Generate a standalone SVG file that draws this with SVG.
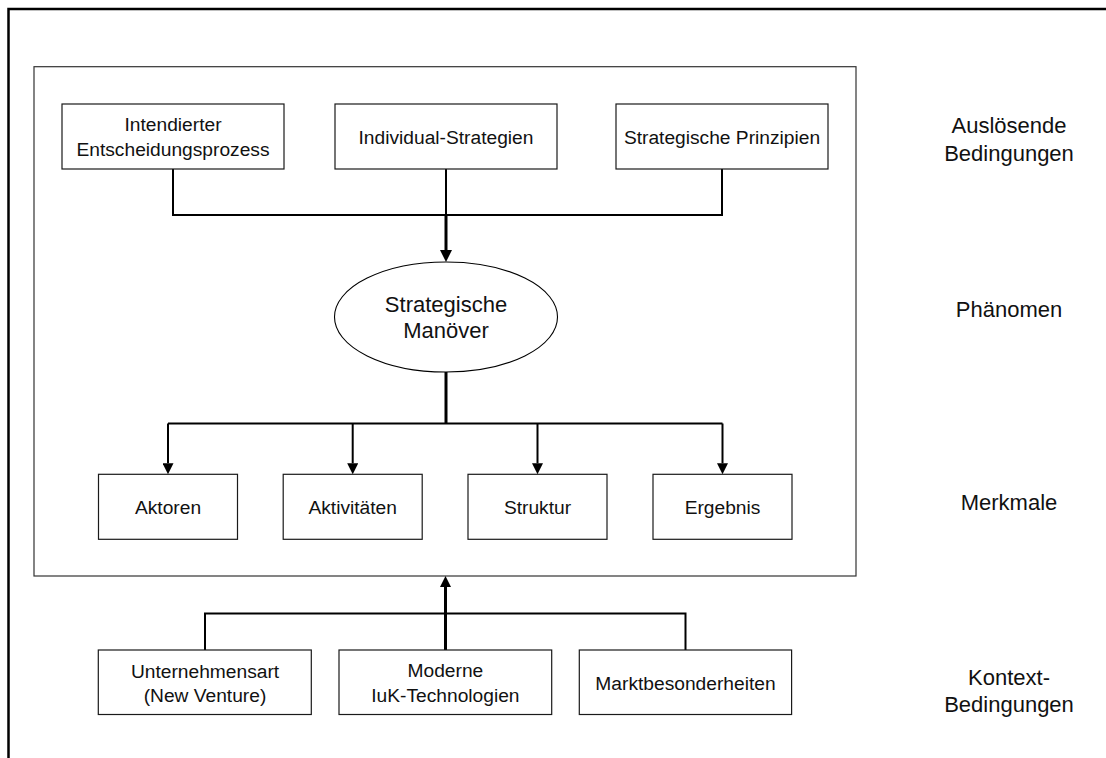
<svg xmlns="http://www.w3.org/2000/svg" width="1106" height="758" viewBox="0 0 1106 758">
  <style>
    .box { fill: #ffffff; stroke: #1a1a1a; stroke-width: 1.2; }
    .frame { fill: none; stroke: #333333; stroke-width: 1.2; }
    .outer { fill: none; stroke: #000000; stroke-width: 2.5; }
    .t { font-family: "Liberation Sans", Arial, sans-serif; font-size: 19.2px; fill: #111111; text-anchor: middle; }
    .big { font-family: "Liberation Sans", Arial, sans-serif; font-size: 22px; fill: #111111; text-anchor: middle; }
    .c { fill: none; stroke: #000000; stroke-width: 2; }
    .c3 { fill: none; stroke: #000000; stroke-width: 3; }
  </style>
  <defs>
    <marker id="ah12" viewBox="0 0 12 12" refX="0" refY="6" markerWidth="12" markerHeight="12" markerUnits="userSpaceOnUse" orient="auto">
      <path d="M0,0 L12,6 L0,12 z" fill="#000000"/>
    </marker>
    <marker id="ah11" viewBox="0 0 11 11" refX="0" refY="5.5" markerWidth="11" markerHeight="11" markerUnits="userSpaceOnUse" orient="auto">
      <path d="M0,0 L11,5.5 L0,11 z" fill="#000000"/>
    </marker>
  </defs>

  <rect width="1106" height="758" fill="#ffffff"/>
  <path class="outer" d="M8.5,758 V9 H1106"/>
  <rect id="frame" class="frame" x="34" y="66.7" width="822" height="509.3"/>

  <g id="connectors">
    <path class="c" d="M173,169 V215 H722 V169"/>
    <path class="c" d="M446,169 V215"/>
    <path class="c3" d="M446,215 V250" marker-end="url(#ah12)"/>
    <path class="c3" d="M446,372 V423.5"/>
    <path class="c" d="M168,423.5 H722.5"/>
    <path class="c" d="M168,423.5 V463.3" marker-end="url(#ah11)"/>
    <path class="c" d="M352.7,423.5 V463.3" marker-end="url(#ah11)"/>
    <path class="c" d="M537.5,423.5 V463.3" marker-end="url(#ah11)"/>
    <path class="c" d="M722.5,423.5 V463.3" marker-end="url(#ah11)"/>
    <path class="c" d="M205,650 V613.5 H685.5 V650"/>
    <path class="c3" d="M445.5,650 V587" marker-end="url(#ah11)"/>
  </g>

  <g id="n-intendiert">
    <rect class="box" x="62" y="104" width="222" height="65"/>
    <text class="t" x="173" y="131">Intendierter</text>
    <text class="t" x="173" y="156">Entscheidungsprozess</text>
  </g>
  <g id="n-individual">
    <rect class="box" x="335" y="104" width="222" height="65"/>
    <text class="t" x="446" y="144">Individual-Strategien</text>
  </g>
  <g id="n-prinzipien">
    <rect class="box" x="616" y="104" width="212" height="65"/>
    <text class="t" x="722" y="144">Strategische Prinzipien</text>
  </g>

  <g id="n-manoever">
    <ellipse cx="446" cy="317" rx="111.5" ry="55" fill="#ffffff" stroke="#000000" stroke-width="1.1"/>
    <text class="big" x="446" y="311.7">Strategische</text>
    <text class="big" x="446" y="338">Manöver</text>
  </g>

  <g id="n-aktoren">
    <rect class="box" x="98.5" y="474.3" width="139" height="65"/>
    <text class="t" x="168" y="514">Aktoren</text>
  </g>
  <g id="n-aktivitaeten">
    <rect class="box" x="283.2" y="474.3" width="139" height="65"/>
    <text class="t" x="352.7" y="514">Aktivitäten</text>
  </g>
  <g id="n-struktur">
    <rect class="box" x="468" y="474.3" width="139" height="65"/>
    <text class="t" x="537.5" y="514">Struktur</text>
  </g>
  <g id="n-ergebnis">
    <rect class="box" x="653" y="474.3" width="139" height="65"/>
    <text class="t" x="722.5" y="514">Ergebnis</text>
  </g>

  <g id="n-unternehmensart">
    <rect class="box" x="98.3" y="650" width="213" height="64.5"/>
    <text class="t" x="205" y="677.5">Unternehmensart</text>
    <text class="t" x="205" y="701.5">(New Venture)</text>
  </g>
  <g id="n-moderne">
    <rect class="box" x="339" y="650" width="212.7" height="64.5"/>
    <text class="t" x="445.4" y="677.3">Moderne</text>
    <text class="t" x="445.4" y="702.3">IuK-Technologien</text>
  </g>
  <g id="n-markt">
    <rect class="box" x="579.3" y="650" width="212.3" height="64.5"/>
    <text class="t" x="685.5" y="690">Marktbesonderheiten</text>
  </g>

  <g id="labels">
    <text class="big" x="1009" y="133">Auslösende</text>
    <text class="big" x="1009" y="160.7">Bedingungen</text>
    <text class="big" x="1009" y="316.7">Phänomen</text>
    <text class="big" x="1009" y="510">Merkmale</text>
    <text class="big" x="1009" y="685">Kontext-</text>
    <text class="big" x="1009" y="711.7">Bedingungen</text>
  </g>
</svg>
